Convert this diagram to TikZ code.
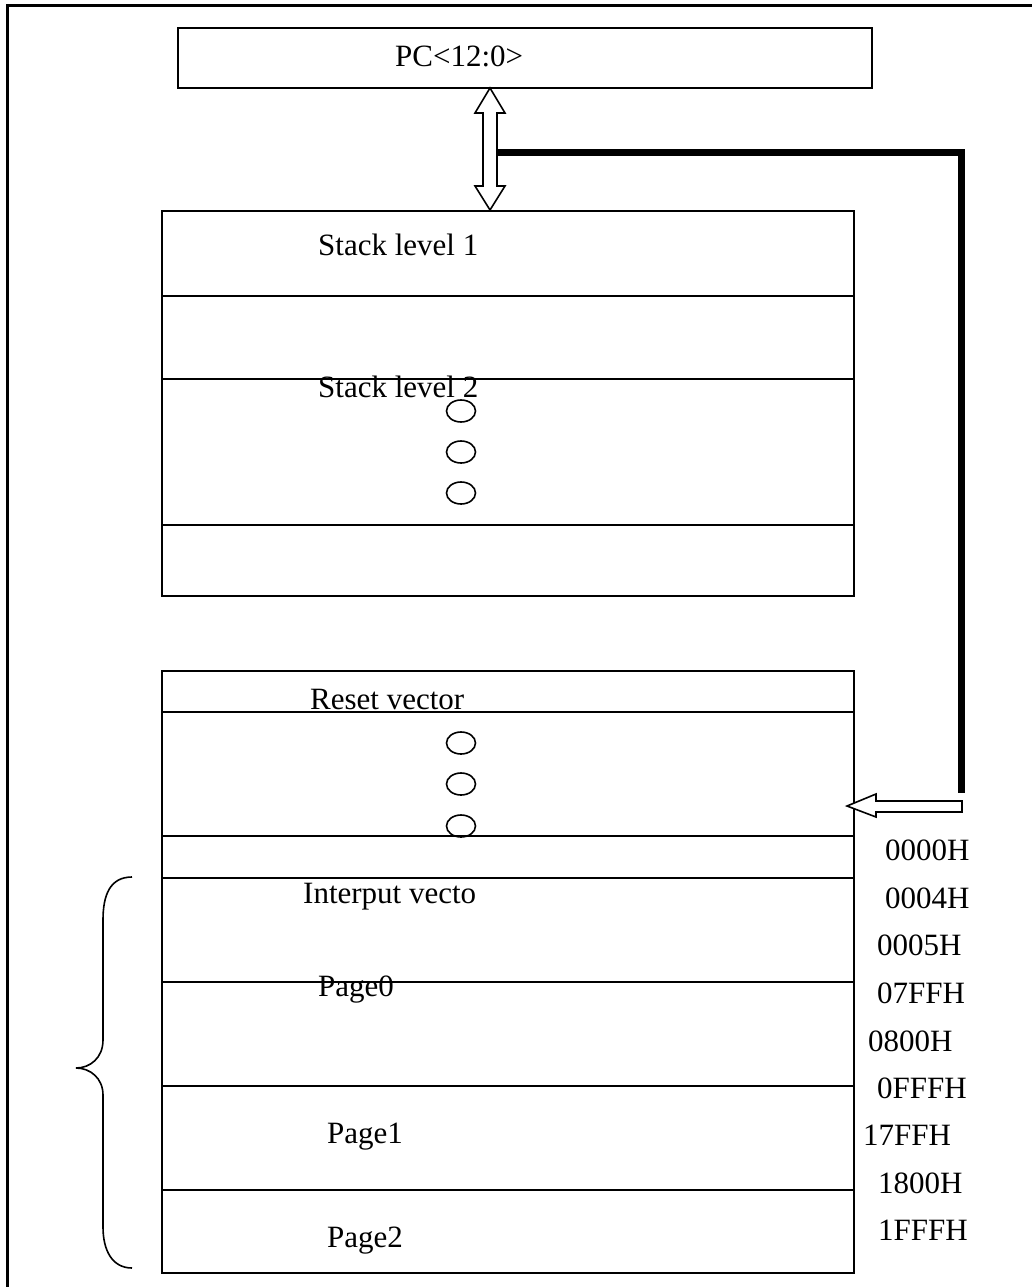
\documentclass[tikz,border=0pt]{standalone}
\usepackage{fontspec}
\setmainfont{Liberation Serif}
\usetikzlibrary{shapes.geometric}
\begin{document}
\begin{tikzpicture}[x=1pt,y=-1pt,
  thin line/.style={line width=1.6pt},
  lbl/.style={anchor=base west,inner sep=0pt,font=\fontsize{31}{36}\selectfont},
  boxnode/.style={draw,thin line,inner sep=0pt,rectangle},
  dot/.style={draw,thin line,ellipse,minimum width=29pt,minimum height=22pt,inner sep=0pt},
  hollow/.style={draw,thin line,fill=white,line join=miter},
  bus/.style={line width=7pt,line join=miter}]
\useasboundingbox (0,0) rectangle (1032,1287);
% outer frame (left and top edges visible)
\draw[line width=3pt] (7,1290) -- (7,6) -- (1035,6);
% PC box
\node[boxnode,minimum width=694pt,minimum height=60pt] (pc) at (525,58) {};
\node[lbl] (pct) at (395,67) {PC<12:0>};
% stack box
\node[boxnode,minimum width=692pt,minimum height=385pt] (stack) at (508,403.5) {};
\draw[thin line] (162,296) -- (854,296);
\draw[thin line] (162,379) -- (854,379);
\draw[thin line] (162,525) -- (854,525);
\node[lbl] (s1) at (318,255) {Stack level 1};
\node[lbl] (s2) at (318,397) {Stack level 2};
\node[dot] (d1) at (461,411) {};
\node[dot] (d2) at (461,452) {};
\node[dot] (d3) at (461,493) {};
% memory box
\node[boxnode,minimum width=692pt,minimum height=602pt] (mem) at (508,972) {};
\foreach \yy in {712,836,878,982,1086,1190}
  \draw[thin line] (162,\yy) -- (854,\yy);
\node[lbl] (rv) at (310,709) {Reset vector};
\node[dot] (d4) at (461,743) {};
\node[dot] (d5) at (461,784) {};
\node[dot] (d6) at (461,826) {};
\node[lbl] (iv) at (303,903) {Interput vecto};
\node[lbl] (p0) at (318,996) {Page0};
\node[lbl] (p1) at (327,1143) {Page1};
\node[lbl] (p2) at (327,1247) {Page2};
% address labels
\node[lbl] (a1) at (885,860) {0000H};
\node[lbl] (a2) at (885,908) {0004H};
\node[lbl] (a3) at (877,955) {0005H};
\node[lbl] (a4) at (877,1003) {07FFH};
\node[lbl] (a5) at (868,1051) {0800H};
\node[lbl] (a6) at (877,1098) {0FFFH};
\node[lbl] (a7) at (863,1145) {17FFH};
\node[lbl] (a8) at (878,1193) {1800H};
\node[lbl] (a9) at (878,1240) {1FFFH};
% double arrow between PC and stack
\draw[hollow] (490,88) -- (505,113) -- (497,113) -- (497,186) -- (505,186) -- (490,210)
  -- (475,186) -- (483,186) -- (483,113) -- (475,113) -- cycle;
% thick bus line
\coordinate (b0) at (497,152);
\coordinate (b1) at (961,152);
\coordinate (b2) at (961,793);
\draw[bus] (b0) -- (b1) -- (b2);
% hollow arrow into memory
\draw[hollow] (847,806) -- (876,794) -- (876,801) -- (962,801) -- (962,812) -- (876,812) -- (876,817) -- cycle;
% brace
\draw[thin line] (132,877) .. controls (110,877) and (103,895) .. (103,920) -- (103,1040)
  .. controls (103,1058) and (90,1068) .. (76,1068)
  .. controls (90,1068) and (103,1078) .. (103,1095) -- (103,1227)
  .. controls (103,1250) and (112,1268) .. (132,1268);
\end{tikzpicture}
\end{document}
